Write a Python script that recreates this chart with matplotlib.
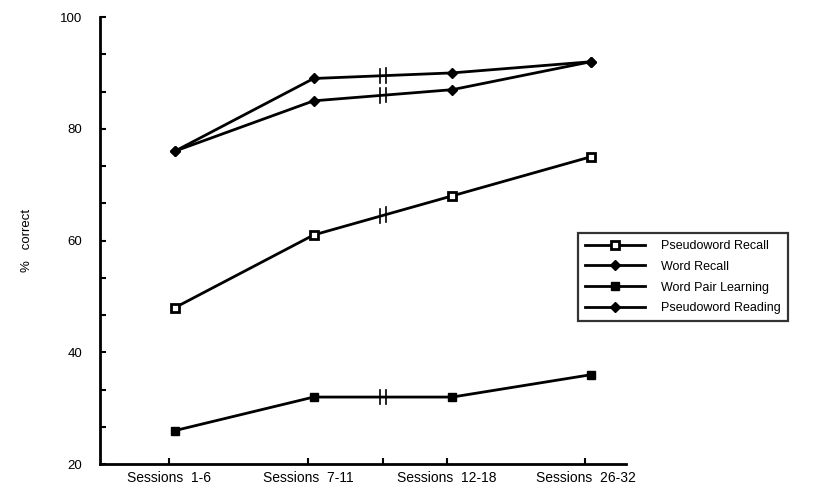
import matplotlib.pyplot as plt
import numpy as np

plt.rcParams['font.family'] = ['Liberation Sans', 'DejaVu Sans']

# sessions on the x axis
sessions = ['Sessions  1-6', 'Sessions  7-11', 'Sessions  12-18', 'Sessions  26-32']

# percent correct for each task
pseudoword_recall = [48, 61, 68, 75]
word_recall = [76, 85, 87, 92]
word_pair_learning = [26, 32, 32, 36]
pseudoword_reading = [76, 89, 90, 92]

x = np.arange(len(sessions))

fig = plt.figure(figsize=(8.2, 4.86), dpi=100)
ax = fig.add_axes([0.122, 0.045, 0.641, 0.920])

lw = 2.0
ax.plot(x, pseudoword_recall, color='black', lw=lw, marker='s', ms=6,
        mfc='white', mec='black', mew=2, label='Pseudoword Recall')
ax.plot(x, word_recall, color='black', lw=lw, marker='D', ms=5,
        mfc='black', mec='black', label='Word Recall')
ax.plot(x, word_pair_learning, color='black', lw=lw, marker='s', ms=6,
        mfc='black', mec='black', label='Word Pair Learning')
ax.plot(x, pseudoword_reading, color='black', lw=lw, marker='D', ms=5,
        mfc='black', mec='black', label='Pseudoword Reading')

# "||" break marks between sessions 7-11 and 12-18
for series in [pseudoword_recall, word_recall, word_pair_learning, pseudoword_reading]:
    for bx in [1.48, 1.52]:
        by = np.interp(bx, x, series)
        ax.plot([bx, bx], [by - 1.3, by + 1.3], color='black', lw=1.2)

ax.set_xlim(-0.54, 3.25)
ax.set_ylim(20, 100)

ax.set_xticks(x - 0.04)
ax.set_xticklabels(sessions, fontsize=10)
ax.set_xticks([1.5], minor=True)
ax.set_yticks([20, 40, 60, 80, 100])
ax.set_yticklabels(['20', '40', '60', '80', '100'], fontsize=9.5)
ax.set_yticks([v for v in np.arange(20, 100, 20 / 3) if v % 20 > 0.1], minor=True)
ax.tick_params(axis='both', which='both', direction='in', length=4, width=1.5)
ax.tick_params(axis='y', pad=13)
ax.tick_params(axis='x', pad=5)

ax.set_ylabel('%   correct', fontsize=9.5, labelpad=19)

for side in ['top', 'right']:
    ax.spines[side].set_visible(False)
ax.spines['left'].set_linewidth(2)
ax.spines['bottom'].set_linewidth(2)

leg = ax.legend(loc='upper left', bbox_to_anchor=(0.697, 0.533),
                bbox_transform=fig.transFigure, fontsize=9, frameon=True,
                fancybox=False, handlelength=4.8, handletextpad=1.3,
                labelspacing=0.7, borderpad=0.55)
leg.get_frame().set_edgecolor('black')
leg.get_frame().set_linewidth(1.6)

fig.savefig('out.png', dpi=100)
